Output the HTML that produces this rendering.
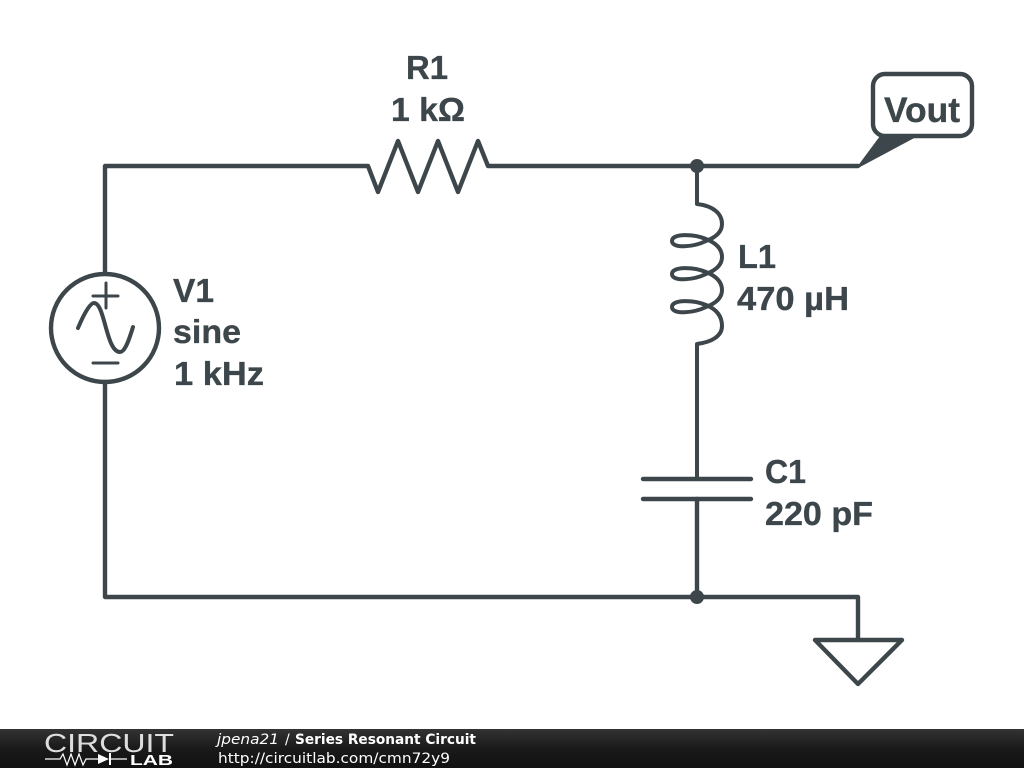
<!DOCTYPE html>
<html><head><meta charset="utf-8"><style>
html,body{margin:0;padding:0;background:#fff;width:1024px;height:768px;overflow:hidden}
svg{display:block}
.t{font:bold 33px "Liberation Sans",sans-serif;fill:#3c464b;stroke:#3c464b;stroke-width:.35}
.f{font-family:"DejaVu Sans",sans-serif;font-size:14px;fill:#fff}
</style></head><body>
<svg width="1024" height="768" viewBox="0 0 1024 768" xmlns="http://www.w3.org/2000/svg">
<defs><linearGradient id="g" x1="0" y1="0" x2="0" y2="1"><stop offset="0" stop-color="#333"/><stop offset="0.5" stop-color="#1a1a1a"/><stop offset="1" stop-color="#111"/></linearGradient></defs>
<rect width="1024" height="768" fill="#fff"/>
<g fill="none" stroke="#3c464b" stroke-width="4.4" stroke-linejoin="round" stroke-linecap="round">
<path d="M105 273V166H368L378 192L398 141L418 192L438 141L458 192L478 141L488 166H858"/>
<path d="M105 382V597H858V640"/>
<path d="M815 640H902L858 684Z"/>
<circle cx="105" cy="328" r="54"/>
<path d="M93 296H118M106 283V308M93 363H118" stroke-width="3"/>
<path d="M78 328C86 309 91 303 94 303C105 303 106 352 120 352C125 352 129 340 133 327" stroke-width="4"/>
<path d="M697 166V204C714 206 722 214 722 224C722 233 714 238 706 241C694 247 672 249 672 241C672 233 694 234 706 239C716 243 722 249 722 257C722 266 714 271 706 274C694 280 672 282 672 274C672 266 694 267 706 272C716 276 722 282 722 290C722 299 714 304 706 307C694 313 672 315 672 307C672 299 694 300 706 305C716 309 722 316 722 326C722 336 712 342 697 344V478" stroke-width="4"/>
<path d="M643 479H751M643 499H751"/>
<path d="M697 499V597"/>
<rect x="873" y="74" width="99" height="62" rx="12"/>
</g>
<path d="M857 167L880 136H918L860 167Z" fill="#3c464b"/>
<circle cx="697" cy="166" r="7" fill="#3c464b"/>
<circle cx="697" cy="597" r="7" fill="#3c464b"/>
<text class="t" x="406" y="79" textLength="42" lengthAdjust="spacingAndGlyphs">R1</text>
<text class="t" x="391" y="121" textLength="74" lengthAdjust="spacingAndGlyphs">1 kΩ</text>
<text class="t" x="173" y="302" textLength="41" lengthAdjust="spacingAndGlyphs">V1</text>
<text class="t" x="173" y="343" textLength="68" lengthAdjust="spacingAndGlyphs">sine</text>
<text class="t" x="174" y="385" textLength="90" lengthAdjust="spacingAndGlyphs">1 kHz</text>
<text class="t" x="738" y="268" textLength="38" lengthAdjust="spacingAndGlyphs">L1</text>
<text class="t" x="737" y="310" textLength="112" lengthAdjust="spacingAndGlyphs">470 µH</text>
<text class="t" x="765" y="483" textLength="41" lengthAdjust="spacingAndGlyphs">C1</text>
<text class="t" x="765" y="525" textLength="108" lengthAdjust="spacingAndGlyphs">220 pF</text>
<text class="t" x="884" y="122" style="font-size:35px" textLength="76" lengthAdjust="spacingAndGlyphs">Vout</text>
<rect x="0" y="729" width="1024" height="39" fill="url(#g)"/>
<text x="44" y="752" font-family="Liberation Sans,sans-serif" font-size="26" fill="#fff" textLength="130" lengthAdjust="spacingAndGlyphs" style="font-weight:normal" opacity="0.85">CIRCUIT</text>
<path d="M45 759H60L63 754L67 765L71 754L75 765L79 754L83 765L86 759H98M110 759H127" fill="none" stroke="#fff" stroke-width="1.2"/>
<path d="M98 754L109 759L98 764Z" fill="#fff"/>
<path d="M110 753V765" stroke="#fff" stroke-width="2"/>
<text x="130" y="765" font-family="Liberation Sans,sans-serif" font-size="15" font-weight="bold" fill="#fff" textLength="43" lengthAdjust="spacingAndGlyphs">LAB</text>
<text class="f" x="217" y="744" font-style="italic" textLength="62" lengthAdjust="spacingAndGlyphs">jpena21</text>
<text class="f" x="285" y="744">/</text>
<text class="f" x="295" y="744" font-weight="bold" textLength="181" lengthAdjust="spacingAndGlyphs">Series Resonant Circuit</text>
<text class="f" x="218" y="763" textLength="232" lengthAdjust="spacingAndGlyphs">http://circuitlab.com/cmn72y9</text>
</svg>
</body></html>
